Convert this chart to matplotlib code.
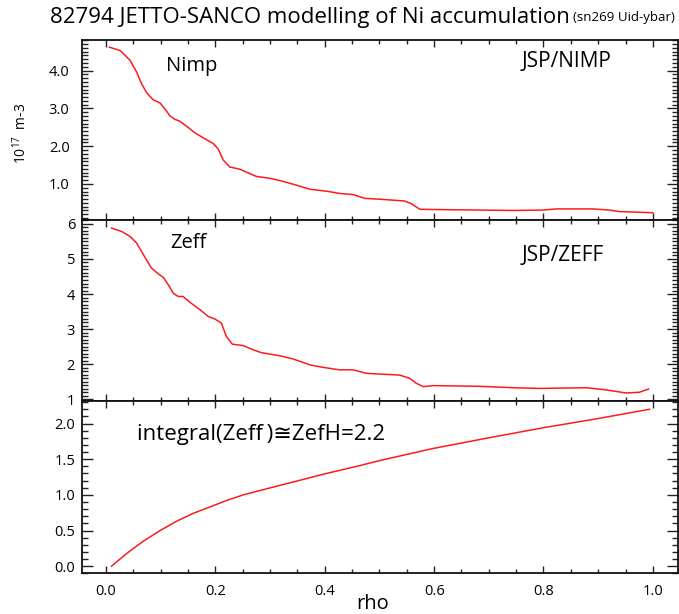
import matplotlib.pyplot as plt
from matplotlib.ticker import MultipleLocator, FormatStrFormatter

plt.rcParams['font.family'] = ['Open Sans', 'DejaVu Sans']
plt.rcParams['mathtext.default'] = 'regular'

# Nimp profile (10^17 m-3) vs rho
nimp_rho = [0.006, 0.026, 0.044, 0.056, 0.065, 0.074, 0.086, 0.099, 0.108, 0.117,
            0.126, 0.135, 0.147, 0.163, 0.178, 0.196, 0.205, 0.214, 0.226, 0.245,
            0.257, 0.275, 0.300, 0.318, 0.348, 0.373, 0.403, 0.427, 0.452, 0.473,
            0.497, 0.546, 0.558, 0.574, 0.622, 0.744, 0.799, 0.823, 0.890, 0.920,
            0.939, 1.000]
nimp = [4.62, 4.53, 4.27, 3.96, 3.65, 3.42, 3.23, 3.14, 2.98, 2.80,
        2.71, 2.66, 2.53, 2.35, 2.22, 2.07, 1.93, 1.64, 1.45, 1.39,
        1.31, 1.20, 1.15, 1.09, 0.97, 0.86, 0.81, 0.75, 0.72, 0.62,
        0.60, 0.55, 0.48, 0.33, 0.32, 0.30, 0.31, 0.34, 0.34, 0.31,
        0.27, 0.24]

# Zeff profile vs rho
zeff_rho = [0.010, 0.029, 0.044, 0.056, 0.065, 0.074, 0.083, 0.096, 0.105, 0.114,
            0.123, 0.132, 0.141, 0.153, 0.172, 0.187, 0.199, 0.211, 0.220, 0.231,
            0.251, 0.269, 0.284, 0.318, 0.342, 0.373, 0.397, 0.427, 0.452, 0.476,
            0.500, 0.537, 0.555, 0.567, 0.580, 0.598, 0.683, 0.744, 0.793, 0.878,
            0.914, 0.951, 0.975, 0.992]
zeff = [5.88, 5.78, 5.64, 5.45, 5.21, 4.97, 4.74, 4.57, 4.47, 4.26,
        4.02, 3.93, 3.93, 3.77, 3.55, 3.36, 3.29, 3.17, 2.79, 2.57,
        2.53, 2.41, 2.33, 2.24, 2.15, 1.98, 1.91, 1.84, 1.84, 1.74,
        1.72, 1.69, 1.60, 1.46, 1.36, 1.39, 1.37, 1.33, 1.31, 1.33,
        1.27, 1.18, 1.20, 1.29]

# running integral of Zeff vs rho
int_rho = [0.010, 0.038, 0.068, 0.099, 0.129, 0.159, 0.190, 0.220, 0.251, 0.281,
           0.342, 0.403, 0.464, 0.500, 0.598, 0.700, 0.799, 0.900, 0.994]
zeff_int = [0.00, 0.18, 0.35, 0.50, 0.63, 0.74, 0.83, 0.92, 1.00, 1.06,
            1.18, 1.30, 1.41, 1.48, 1.65, 1.80, 1.94, 2.07, 2.20]

x_ticks = [0.0, 0.2, 0.4, 0.6, 0.8, 1.0]

W, H = 679, 614
fig = plt.figure(figsize=(W / 100, H / 100), dpi=100)

left = 82 / W
width = 596 / W
ax1 = fig.add_axes([left, 1 - 220 / H, width, 180 / H])
ax2 = fig.add_axes([left, 1 - 400.7 / H, width, 180.7 / H])
ax3 = fig.add_axes([left, 1 - 573.3 / H, width, 172.6 / H])

red = '#ff1a1a'
ax1.plot(nimp_rho, nimp, color=red, lw=1.1)
ax2.plot(zeff_rho, zeff, color=red, lw=1.1)
ax3.plot(int_rho, zeff_int, color=red, lw=1.1)

ax1.set_ylim(0.047, 4.81)
ax2.set_ylim(0.96, 6.11)
ax3.set_ylim(-0.1, 2.32)

for ax in (ax1, ax2, ax3):
    ax.set_xlim(-0.044, 1.046)
    ax.xaxis.set_major_locator(MultipleLocator(0.2))
    ax.xaxis.set_minor_locator(MultipleLocator(0.05))
    ax.yaxis.set_minor_locator(MultipleLocator(0.1))
    ax.tick_params(which='both', direction='in', top=True, right=True,
                   labelsize=10.5, width=1, color='#222222')
    ax.tick_params(axis='y', which='major', length=8, pad=5)
    ax.tick_params(axis='y', which='minor', length=4.3)
    ax.tick_params(axis='x', which='major', length=5)
    ax.tick_params(axis='x', which='minor', length=3)
    for s in ax.spines.values():
        s.set_linewidth(1.3)
        s.set_color('#111111')

ax1.yaxis.set_major_locator(MultipleLocator(1.0))
ax1.yaxis.set_major_formatter(FormatStrFormatter('%.1f'))
ax1.tick_params(axis='y', which='major', pad=9)
ax2.yaxis.set_major_locator(MultipleLocator(1))
ax2.yaxis.set_major_formatter(FormatStrFormatter('%d'))
ax3.yaxis.set_major_locator(MultipleLocator(0.5))
ax3.yaxis.set_major_formatter(FormatStrFormatter('%.1f'))

ax1.tick_params(axis='x', labelbottom=False)
ax2.tick_params(axis='x', labelbottom=False)
ax3.set_xticks(x_ticks)
ax3.xaxis.set_major_formatter(FormatStrFormatter('%.1f'))
ax3.tick_params(axis='x', pad=8)

# panel labels
ax1.text(0.141, 0.856, 'Nimp', transform=ax1.transAxes, fontsize=14.5, va='center')
ax1.text(0.737, 0.883, 'JSP/NIMP', transform=ax1.transAxes, fontsize=15, va='center')
ax2.text(0.148, 0.873, 'Zeff', transform=ax2.transAxes, fontsize=14.5, va='center')
ax2.text(0.737, 0.806, 'JSP/ZEFF', transform=ax2.transAxes, fontsize=15, va='center')
ax3.text(0.092, 0.807, 'integral(Zeff\u2009)\u2245ZefH=2.2', transform=ax3.transAxes,
         fontsize=16, va='center')

fig.text(21 / W, 1 - 133 / H, '10$^{17}$  m-3', rotation=90, fontsize=10,
         ha='center', va='center')
fig.text(373 / W, 1 - 604 / H, 'rho', fontsize=14.5, ha='center', va='center')

# title in two sizes
t1 = fig.text(50 / W, 1 - 17 / H, '82794 JETTO-SANCO modelling of Ni accumulation',
              fontsize=16, ha='left', va='center')
fig.canvas.draw()
bb = t1.get_window_extent(renderer=fig.canvas.get_renderer())
fig.text((bb.x1 + 3) / W, 1 - 18 / H, '(sn269 Uid-ybar)', fontsize=9.5,
         ha='left', va='center')

fig.savefig('out.png', dpi=100, facecolor='white')
